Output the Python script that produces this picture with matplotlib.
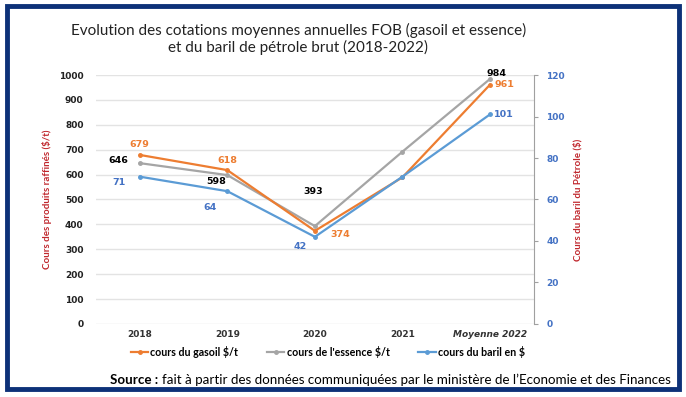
import matplotlib.pyplot as plt
from matplotlib.patches import Rectangle

# ===== Données =====
annees = ["2018", "2019", "2020", "2021", "Moyenne 2022"]
gasoil = [679, 618, 374, 589, 961]      # $/t
essence = [646, 598, 393, 692, 984]     # $/t
baril = [71, 64, 42, 71, 101]           # $
etiq_gasoil = ["679", "618", "374", "", "961"]
etiq_essence = ["646", "598", "393", "", "984"]
etiq_baril = ["71", "64", "42", "", "101"]

ORANGE = "#ED7D31"
GRIS = "#A5A5A5"
BLEU = "#5B9BD5"
BLEU_TXT = "#4472C4"
ROUGE = "#C0272D"
CADRE = "#0D3178"

plt.rcParams["font.family"] = ["Lato", "DejaVu Sans"]

fig = plt.figure(figsize=(6.86, 3.97), dpi=100)
ax = fig.add_axes([0.14, 0.184, 0.638, 0.627])
ax2 = ax.twinx()

x = list(range(len(annees)))
ax.plot(x, gasoil, color=ORANGE, lw=1.6, marker="o", ms=2.5, label="cours du gasoil $/t", zorder=3)
ax.plot(x, essence, color=GRIS, lw=1.6, marker="o", ms=2.5, label="cours de l'essence $/t", zorder=2)
ax2.plot(x, baril, color=BLEU, lw=1.6, marker="o", ms=2.5, label="cours du baril en $", zorder=3)

ax.set_xlim(-0.5, 4.5)
ax.set_ylim(0, 1000)
ax2.set_ylim(0, 120)
ax.set_yticks(range(0, 1001, 100))
ax2.set_yticks(range(0, 121, 20))
ax.set_xticks(x)
ax.set_xticklabels(annees)

ax.grid(axis="y", color="#E3E3E3", lw=1)
ax.set_axisbelow(True)
for s in ["left", "top", "right", "bottom"]:
    ax.spines[s].set_visible(False)
for s in ["left", "top", "bottom"]:
    ax2.spines[s].set_visible(False)
ax2.spines["right"].set_color("#A0A0A0")

ax.tick_params(axis="y", length=0, labelsize=6.5, pad=9, labelcolor="#222222")
ax.tick_params(axis="x", length=0, labelsize=6.5, pad=4, labelcolor="#333333")
ax2.tick_params(axis="y", length=3, color="#A0A0A0", labelsize=6.5, labelcolor=BLEU_TXT, pad=6)
for lab in ax.get_yticklabels() + ax.get_xticklabels() + ax2.get_yticklabels():
    lab.set_fontfamily("DejaVu Sans")
    lab.set_fontweight("bold")
ax.get_xticklabels()[-1].set_fontstyle("italic")

ax.set_ylabel("Cours des produits raffinés ($/t)", color=ROUGE, fontsize=7, fontweight="bold",
              labelpad=5)
ax2.set_ylabel("Cours du baril du Pétrole ($)", color=ROUGE, fontsize=7, fontweight="bold", labelpad=6)

# ===== Étiquettes de données =====
off_gasoil = [(0, 10), (0, 10), (25, -4), (0, 0), (14, 0)]
off_essence = [(-21, 3), (-11, -6), (-2, 35), (0, 0), (7, 6)]
off_baril = [(-21, -6), (-17, -16), (-15, -10), (0, 0), (14, 0)]
lab_kw = dict(textcoords="offset pixels", ha="center", va="center", fontsize=6.8,
              fontweight="bold", fontfamily="DejaVu Sans")
for i in x:
    ax.annotate(etiq_gasoil[i], (i, gasoil[i]), xytext=off_gasoil[i], color=ORANGE, **lab_kw)
    ax.annotate(etiq_essence[i], (i, essence[i]), xytext=off_essence[i], color="black", **lab_kw)
    ax2.annotate(etiq_baril[i], (i, baril[i]), xytext=off_baril[i], color=BLEU_TXT, **lab_kw)

# ===== Titre, légende, source =====
fig.text(0.435, 0.922, "Evolution des cotations moyennes annuelles FOB (gasoil et essence)",
         ha="center", va="center", fontsize=11, color="#222222")
fig.text(0.435, 0.881, "et du baril de pétrole brut (2018-2022)",
         ha="center", va="center", fontsize=11, color="#222222")

h1, l1 = ax.get_legend_handles_labels()
h2, l2 = ax2.get_legend_handles_labels()
fig.legend(h1 + h2, l1 + l2, loc="center", bbox_to_anchor=(0.478, 0.113), ncol=3,
           frameon=False, handlelength=1.6, handletextpad=0.2,
           columnspacing=2.7, prop={"weight": "bold", "size": 7.7})

fig.text(0.161, 0.043, "Source :", ha="left", va="center", fontsize=9.6, color="black",
         fontweight="bold")
fig.text(0.236, 0.043, "fait à partir des données communiquées par le ministère de l’Economie et des Finances",
         ha="left", va="center", fontsize=9.6, color="black")

fig.patches.append(Rectangle((0.01, 0.02), 0.98, 0.965, transform=fig.transFigure,
                             fill=False, edgecolor=CADRE, lw=3.5))

fig.savefig("out.png", dpi=100)
